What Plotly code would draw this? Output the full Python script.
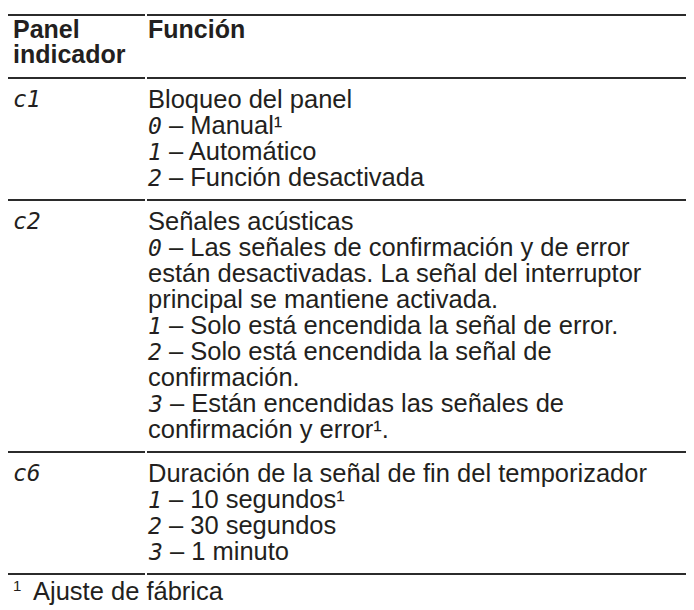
import plotly.graph_objects as go

# ---------------- data ----------------
header_left = ["Panel", "indicador"]
header_right = ["Función"]
panel_codes = ["c1", "c2", "c6"]
function_titles = [
    "Bloqueo del panel",
    "Señales acústicas",
    "Duración de la señal de fin del temporizador",
]
option_codes = [["0", "1", "2"], ["0", "1", "2", "3"], ["1", "2", "3"]]
option_texts = [
    ["Manual¹", "Automático", "Función desactivada"],
    [
        "Las señales de confirmación y de error|están desactivadas. La señal del interruptor|principal se mantiene activada.",
        "Solo está encendida la señal de error.",
        "Solo está encendida la señal de|confirmación.",
        "Están encendidas las señales de|confirmación y error¹.",
    ],
    ["10 segundos¹", "30 segundos", "1 minuto"],
]
footnote_mark = "1"
footnote_text = "Ajuste de fábrica"

# ---------------- style ----------------
W, H = 694, 610
TOP = 7
LH = 26
HEAD_LH = 25
HEAD_BEFORE = 14
HEAD_AFTER = 24
PAD_BEFORE = 21
PAD_AFTER = 23
X_LEFT = 5
X_RIGHT = 140
SPLIT = 138
TXT = "#231f20"
RULE = "#2b2b2b"
FONT = "Liberation Sans, Arial, Helvetica, sans-serif"
FS = 25.5
SEG = "font-family:DejaVu Sans Mono;font-style:italic;font-size:23px"


def seg(s):
    return f'<span style="{SEG}">{s}</span>'


annotations = []
shapes = []


def add_text(x, y, text, bold=False, size=FS):
    annotations.append(dict(
        x=x, y=y, xref="x", yref="y", text=text, showarrow=False,
        xanchor="left", yanchor="middle", align="left",
        borderpad=0, borderwidth=0,
        font=dict(family=FONT, size=size, color=TXT,
                  weight="bold" if bold else "normal"),
    ))


def add_rule(y, w=2.0):
    for x0, x1 in [(0, SPLIT - 1), (SPLIT + 1, W)]:
        shapes.append(dict(type="line", xref="x", yref="y", x0=x0, x1=x1,
                           y0=y, y1=y, line=dict(color=RULE, width=w)))


y = TOP
add_rule(y, 2.2)
# header
yc = y + HEAD_BEFORE
for i, h in enumerate(header_left):
    add_text(X_LEFT, yc + i * HEAD_LH, h, bold=True, size=25)
for i, h in enumerate(header_right):
    add_text(X_RIGHT, yc + i * HEAD_LH, h, bold=True, size=25)
y = yc + (len(header_left) - 1) * HEAD_LH + HEAD_AFTER
add_rule(y, 2.2)

# body rows
for code, title, ocodes, otexts in zip(panel_codes, function_titles, option_codes, option_texts):
    yc = y + PAD_BEFORE
    add_text(X_LEFT, yc, seg(code))
    lines = [title]
    for oc, ot in zip(ocodes, otexts):
        parts = ot.split("|")
        lines.append(seg(oc) + " – " + parts[0])
        lines.extend(parts[1:])
    for i, ln in enumerate(lines):
        add_text(X_RIGHT, yc + i * LH, ln)
    y = yc + (len(lines) - 1) * LH + PAD_AFTER
    add_rule(y, 1.8)

# footnote
yc = y + 17
add_text(X_LEFT, yc - 6, footnote_mark, size=15)
add_text(X_LEFT + 20, yc, footnote_text)

fig = go.Figure()
fig.add_trace(go.Scatter(x=[0, W], y=[0, H], mode="markers",
                         marker=dict(opacity=0), hoverinfo="skip", showlegend=False))
fig.update_layout(
    width=W, height=H, margin=dict(l=0, r=0, t=0, b=0),
    paper_bgcolor="white", plot_bgcolor="white",
    xaxis=dict(range=[0, W], visible=False, fixedrange=True),
    yaxis=dict(range=[H, 0], visible=False, fixedrange=True),
    annotations=annotations, shapes=shapes, showlegend=False,
)
fig.write_html("out.html")
